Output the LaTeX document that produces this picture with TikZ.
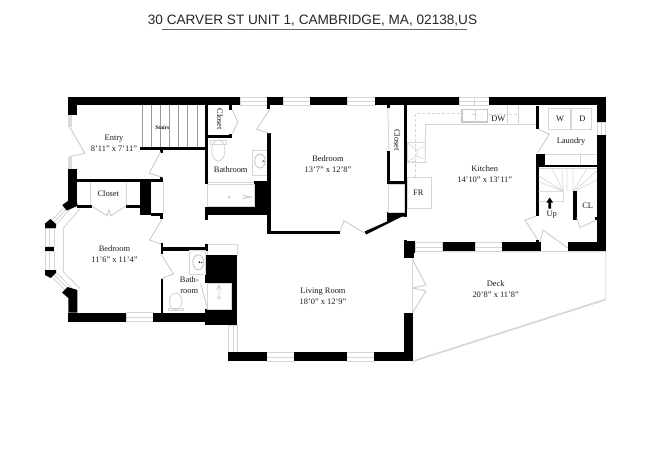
\documentclass[tikz,border=0pt]{standalone}
\usepackage{fontspec}
\setmainfont{Liberation Serif}
\newfontfamily\titlefont{Liberation Sans}
\tikzset{
  wall/.style={fill=black,draw=none},
  fix/.style={draw=black!16,line width=0.9pt,fill=none},
  fixw/.style={draw=black!16,line width=0.9pt,fill=white},
  doorline/.style={draw=black!22,line width=0.8pt,line join=miter},
  dashline/.style={draw=black!16,line width=0.9pt,dash pattern=on 3pt off 2pt},
  lbl/.style={font=\fontsize{8.4}{9}\selectfont,text=black!90,inner sep=0pt,align=center},
}
\newcommand{\wl}[4]{\fill[wall] (#1,#2) rectangle (#3,#4);}
\newcommand{\win}[4]{\draw[fix] (#1,#2) rectangle (#3,#4);}
\begin{document}
\begin{tikzpicture}[x=1pt,y=-1pt]
\useasboundingbox (0,0) rectangle (650,459);
\fill[white] (0,0) rectangle (650,459);
% title
\node[font=\titlefont\fontsize{13.6}{15}\selectfont,inner sep=0pt,text=black!85] (title) at (312.5,20.5) {30 CARVER ST UNIT 1, CAMBRIDGE, MA, 02138,US};
\coordinate (ulA) at (161.7,29.6);
\coordinate (ulB) at (466.5,29.6);
\draw[black!60,line width=0.9pt] (ulA) -- (ulB);
% windows (top)
\win{240}{97}{267}{105}\draw[fix] (240,101)--(267,101);
\win{283}{97}{310}{105}\draw[fix] (283,101)--(310,101);
\win{347}{97}{375}{105}\draw[fix] (347,101)--(375,101);
\win{459}{97}{489}{105}\draw[fix] (459,101)--(489,101);\draw[fix] (474,97)--(474,105);
\win{597}{122.3}{605.7}{135}\draw[fix] (601,122.3)--(601,135);
\win{126}{312.7}{153}{321.7}\draw[fix] (126,317)--(153,317);
\win{228.5}{325}{237.3}{352.3}\draw[fix] (233,325)--(233,352.3);
\win{266.7}{352.3}{294}{361.3}\draw[fix] (266.7,357)--(294,357);
\win{346.7}{352.3}{374}{361.3}\draw[fix] (346.7,357)--(374,357);
\win{415}{242.5}{442.7}{251.3}\draw[fix] (415,247)--(442.7,247);
\win{475}{242.5}{502.3}{251.3}\draw[fix] (475,247)--(502.3,247);
\win{207.5}{244.8}{237.3}{255}
% bay windows
\win{45}{228}{54}{246.7}\draw[fix] (49.5,228)--(49.5,246.7);
\win{45}{251}{54}{270}\draw[fix] (49.5,251)--(49.5,270);
\draw[fix] (53,219.5)--(66,205) (56.5,224)--(73,206) (54.7,221.7)--(69.5,205.5);
\draw[fix] (53,278)--(66,291) (56.5,273)--(72,288) (54.7,275.5)--(69,289.5);
\draw[fix] (80,209)--(63.3,228)--(63.3,272)--(80,288.5);
% walls: outer top / left
\wl{68.3}{97}{240}{105}
\wl{267}{97}{283}{105}
\wl{310}{97}{347}{105}
\wl{375}{97}{459}{105}
\wl{489}{97}{605.7}{105}
\wl{68.3}{97}{77.3}{115}
\wl{68.3}{169}{77.3}{205}
\fill[wall] (62.3,205)--(70,199.5)--(77.3,203)--(77.3,206)--(66.7,210.5)--cycle;
\fill[wall] (45,223.5)--(50.5,219)--(56,224)--(56,228)--(45,228)--cycle;
\wl{45}{246.7}{54}{251}
\fill[wall] (45,270)--(56,270)--(56,273)--(50.7,278)--(45,275)--cycle;
\fill[wall] (62,292.5)--(67.5,287)--(77.3,290)--(77.3,312.7)--(68.3,312.7)--(68.3,298)--cycle;
\wl{68.3}{312.7}{126}{321.7}
\wl{153}{312.7}{237.3}{321.7}
% entry door side
\fill[black!14] (68.3,115) rectangle (71.7,127);
\fill[black!14] (68.3,157) rectangle (71.7,169);
\draw[doorline] (69.5,126.7)--(85,153.3)--(69.5,156.7);
% entry / closet walls
\wl{77.3}{178.5}{163.3}{181.7}
\wl{77.3}{205}{91.7}{207.7}
\wl{126}{205}{140}{207.7}
\wl{140}{180}{150.7}{215}
\wl{150.7}{212.7}{163.3}{215.7}
\wl{160.3}{176.7}{163.3}{181.7}
\wl{160.3}{213}{163.3}{219.3}
\draw[fix] (163.3,181.7)--(163.3,213);
\draw[fix] (90.7,181.7)--(90.7,205) (126.7,181.7)--(126.7,205);
\draw[doorline] (91.7,206)--(107,215.7)--(109,210)--(111,215.7)--(126,206);
\draw[doorline] (162,219.3)--(149.5,240)--(161.5,244);
% stairs
\foreach \sx in {142.3,151.4,160.5,169.6,178.7,187.8,196.9}{\draw[black!40,line width=0.7pt] (\sx,105)--(\sx,148);}
\wl{140}{147.3}{207.7}{150}
\wl{160.3}{150}{163}{152.5}
\draw[doorline] (160.7,151.7)--(149.3,173.3)--(162.7,177.3);
% bath-room lower left
\wl{160.7}{243}{163.3}{254.3}
\wl{160.7}{247.3}{208}{250.7}
\wl{205}{244}{207.7}{250}
\wl{160.7}{279}{163.3}{313}
\draw[doorline] (161.7,255)--(173.3,274)--(160.7,279);
\fill[wall] (205,255) rectangle (237.3,283.3);
\wl{231.7}{255}{237.3}{325}
\wl{205}{309.3}{237.3}{325}
\draw[fix] (207,283.8) rectangle (231.5,309);
\draw[fix] (189.3,250.7) rectangle (205,274.3);
\draw[black!25,line width=0.8pt] (198.3,262.3) ellipse (5.5 and 7.5);
\fill[black] (199.5,262.2) circle (0.8) (201.8,262.2) circle (0.7);
\draw[fix] (175.7,301.5) ellipse (6.3 and 8.5);
\draw[fix] (168.5,308.3) rectangle (183.3,310.8);
\draw[doorline] (200.7,284)--(207.7,309);
\draw[black!18,line width=0.7pt] (219,285)--(219,296) (216.5,290)--(219,285)--(221.5,290);
\draw[black!18,line width=0.7pt] (219,297.5) circle (1.5);
% central wall & bathroom upper
\wl{204.8}{105}{207.5}{184}
\wl{207}{135}{232.3}{137.7}
\wl{229.3}{105}{232.3}{110}
\wl{229.3}{134.3}{232.3}{137.7}
\draw[doorline] (232.3,110)--(237.7,121.7)--(232.3,134.3);
\wl{254.3}{180.7}{269}{206.7}
\wl{204.8}{206.7}{269}{215}
\wl{204.8}{206.7}{207.5}{220}
\draw[fix] (207.5,184) rectangle (254.3,206.7);
\draw[fix] (207.5,182.5)--(254.3,182.5);
\draw[black!20,fill=black!12,line width=0.4pt] (229.3,197.3) circle (1);
\draw[black!20,line width=0.6pt] (241.7,195)--(252,197)--(241.7,199) (243,197)--(252,197);
\draw[fix] (218.3,150.5) ellipse (6.7 and 10.5);
\draw[fix] (210.5,140.3) rectangle (226,144.5);
\draw[fix] (252.7,150.7) rectangle (267,175);
\draw[black!25,line width=0.8pt] (260,161) ellipse (5.3 and 7);
\fill[black] (263.5,161) circle (0.7);
\draw[black!40,line width=0.5pt] (262,161)--(265,161);
% bedroom
\wl{267}{105}{270}{109}
\wl{267.2}{133.3}{270.5}{234}
\wl{267.2}{231}{340}{234}
\draw[doorline] (270,109)--(256.7,129.3)--(269.3,133.3);
\draw[doorline] (340,232)--(344,220.7)--(364,232.7);
\fill[wall] (364.5,231.5)--(387,221.5)--(387,212)--(406.7,212)--(406.7,216.5)--(402,216.5)--(366,234.5)--cycle;
\wl{404}{105}{406.7}{216.5}
\wl{387.3}{105}{390}{108}
\wl{387.3}{150.7}{390}{183}
\wl{387.3}{181}{406.7}{184}
\draw[fix] (387.8,108)--(389,150.7);
\draw[fix] (388,184) rectangle (404,212);
% kitchen
\draw[fix] (407,177.3) rectangle (431.7,208.3);
\draw[dashline] (415,177)--(415,113.5)--(460,113.5);
\draw[dashline] (407,161.7)--(415,161.7);
\draw[fix] (425,162.3)--(425,124)--(536,124);
\draw[fix] (407.3,142.3) rectangle (425,162.3);
\draw[black!16,line width=0.6pt] (407.3,143)--(417,150)--(425,146) (407.3,161.7)--(417,156)--(425,159) (417,150)--(417,156);
\draw[black!22,line width=1.6pt] (462,109.5) rectangle (487.5,122);
\draw[black!16,line width=0.6pt] (475,110)--(475,122);
\draw[dashline] (472,114.5)--(478,114.5);
\draw[fix] (507.3,105)--(507.3,124) (518.3,105)--(518.3,124);
\draw[dashline] (489,114)--(517,114);
\wl{536}{105.7}{538.7}{129.3}
\draw[doorline] (538.7,129.3)--(549.3,134.3)--(537.3,153.3);
\wl{536}{154}{545.3}{165.7}
\wl{536}{165}{596.7}{167.3}
\wl{536}{165}{538.7}{216}
\draw[doorline] (536,216)--(525,220)--(540,243.3);
\draw[doorline] (540,243.3)--(543,230)--(567.7,248);
\wl{536}{240}{538.7}{243}
\wl{596.7}{97}{605.7}{122.3}
\wl{596.7}{135}{605.7}{251}
\wl{567.7}{242.3}{605.7}{251}
\wl{502.3}{242.3}{540.7}{251}
\draw[fix] (540.7,251)--(567.7,251);
\wl{442.7}{242.3}{475}{251}
\wl{404}{241}{415}{253}
\wl{404}{239.5}{406.5}{241}
% laundry
\draw[fix] (548.3,108.3) rectangle (570,129.3);
\draw[fix] (571.5,108.3) rectangle (591.7,129.3);
\draw[fix] (545.3,154.5)--(596.7,154.5);
\draw[fix] (580,154.5)--(580,165);
% spiral stairs
\draw[fix] (538.7,168.5)--(596.7,168.5);
\draw[black!14,line width=0.7pt]
 (538.7,181.5)--(563.5,191.5) (538.7,176)--(563,191) (552,168.5)--(563,191) (562,168.5)--(563.5,191)
 (567,168.5)--(567,191) (573,168.5)--(573,191) (573.5,191)--(587,168.5) (574.5,191)--(596.5,171) (575,191)--(596.5,180)
 (538.7,191.5)--(563.5,191.5)--(563.5,201.5)--(538.7,201.5);
\wl{573.3}{191}{576.7}{220}
\wl{595.3}{216.7}{597}{220}
\draw[doorline] (576.7,217.7)--(580,227.7)--(596,220);
\fill[black] (549.7,197.5)--(553,202.5)--(551,202.5)--(551,208.5)--(548.4,208.5)--(548.4,202.5)--(546.4,202.5)--cycle;
% living room
\wl{228.3}{352.3}{266.7}{361.3}
\wl{294}{352.3}{346.7}{361.3}
\wl{374}{352.3}{412.7}{361.3}
\wl{404}{312.7}{412.7}{361.3}
\wl{404}{245}{414}{258.3}
\draw[doorline] (412.7,260)--(426,285)--(413,288)--(426,291)--(412.7,312.5);
\draw[fix] (412.7,258.3)--(412.7,312.7);
% deck
\draw[fix] (415,251.6)--(605.7,251.6)--(605.7,299)--(413,360.7);
\draw[fix] (605.7,299.9)--(413,361.6);
% labels
\node[lbl] (n1) at (114,143) {Entry\\[2pt]8'11" x 7'11"};
\node[lbl,font=\bfseries\fontsize{5.6}{6}\selectfont] (n2) at (162.3,127.7) {Stairs};
\node[lbl,rotate=-90] (n3) at (220,119.3) {Closet};
\node[lbl] (n4) at (230.7,169.3) {Bathroom};
\node[lbl] (n5) at (108.3,193.3) {Closet};
\node[lbl] (n6) at (114.5,254) {Bedroom\\[2pt]11'6" x 11'4"};
\node[lbl] (n7) at (189.3,285) {Bath-\\[2pt]room};
\node[lbl] (n8) at (328,164.5) {Bedroom\\[2pt]13'7" x 12'8"};
\node[lbl,rotate=-90] (n9) at (397.3,140) {Closet};
\node[lbl] (n10) at (418.3,192.7) {FR};
\node[lbl] (n11) at (498.3,119.3) {DW};
\node[lbl] (n12) at (484.7,174.5) {Kitchen\\[2pt]14'10" x 13'11"};
\node[lbl] (n13) at (560,119) {W};
\node[lbl] (n14) at (582.3,119) {D};
\node[lbl] (n15) at (571,141.7) {Laundry};
\node[lbl] (n16) at (551.7,215) {Up};
\node[lbl] (n17) at (587.7,205.7) {CL};
\node[lbl] (n18) at (323,296) {Living Room\\[2pt]18'0" x 12'9"};
\node[lbl] (n19) at (495.7,289.5) {Deck\\[2pt]20'8" x 11'8"};
\end{tikzpicture}
\end{document}
